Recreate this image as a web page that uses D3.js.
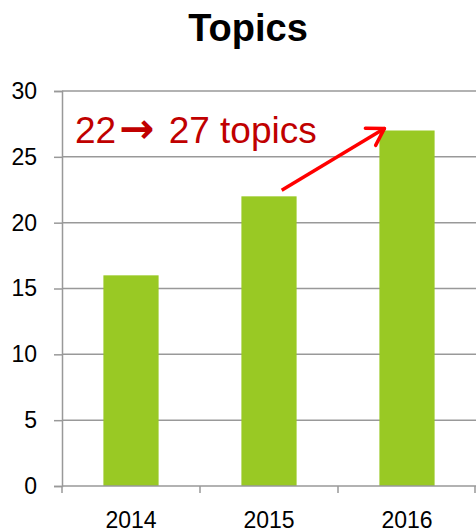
<!DOCTYPE html>
<html>
<head>
<meta charset="utf-8">
<script src="https://cdn.jsdelivr.net/npm/d3@7"></script>
<style>
  body { margin: 0; background: #fff; }
  text { font-family: "Liberation Sans", Arial, sans-serif; }
</style>
</head>
<body>
<div id="chart"></div>
<script>
// data
var years = ["2014", "2015", "2016"];
var topicCounts = [16, 22, 27];
var yTicks = [0, 5, 10, 15, 20, 25, 30];

// canvas size
var svgWidth = 476;
var svgHeight = 530;

// chart area
var margin = { top: 91, right: 0, bottom: 44, left: 62 };
var chartWidth = svgWidth - margin.left - margin.right;
var chartHeight = svgHeight - margin.top - margin.bottom;

var svg = d3.select("#chart")
            .append("svg")
            .attr("width", svgWidth)
            .attr("height", svgHeight);

var chartGroup = svg.append("g")
                    .attr("transform", `translate(${margin.left}, ${margin.top})`);

// scales
var yScale = d3.scaleLinear()
               .domain([0, 30])
               .range([chartHeight, 0]);

var xScale = d3.scaleBand()
               .domain(years)
               .range([0, chartWidth])
               .paddingInner(0.6)
               .paddingOuter(0.3);

// gridlines
chartGroup.selectAll(".grid")
          .data(yTicks.slice(1))
          .enter()
          .append("line")
          .attr("x1", 0)
          .attr("x2", chartWidth)
          .attr("y1", d => yScale(d))
          .attr("y2", d => yScale(d))
          .attr("stroke", "#999")
          .attr("stroke-width", 1.5);

// bars
chartGroup.selectAll(".bar")
          .data(topicCounts)
          .enter()
          .append("rect")
          .attr("x", (d, i) => xScale(years[i]))
          .attr("y", d => yScale(d))
          .attr("width", xScale.bandwidth())
          .attr("height", d => chartHeight - yScale(d))
          .attr("fill", "#99c924");

// y axis
var yAxis = chartGroup.append("g")
                      .call(d3.axisLeft(yScale).tickValues(yTicks).tickSize(8).tickPadding(17));
yAxis.select(".domain").attr("stroke", "#999").attr("stroke-width", 1.5);
yAxis.selectAll(".tick line").attr("stroke", "#999").attr("stroke-width", 1.5);
yAxis.selectAll("text").attr("font-size", 23).attr("fill", "#000")
     .attr("font-family", "Liberation Sans, sans-serif");

// x axis, ticks at band edges
var xAxisG = chartGroup.append("g")
                       .attr("transform", `translate(0, ${chartHeight})`);
xAxisG.append("line")
      .attr("x1", 0).attr("x2", chartWidth)
      .attr("stroke", "#999").attr("stroke-width", 1.5);
var step = xScale.step();
xAxisG.selectAll(".xtick")
      .data(d3.range(years.length + 1))
      .enter()
      .append("line")
      .attr("x1", i => Math.min(i * step, chartWidth - 1))
      .attr("x2", i => Math.min(i * step, chartWidth - 1))
      .attr("y1", 0)
      .attr("y2", 7)
      .attr("stroke", "#999")
      .attr("stroke-width", 1.5);
xAxisG.selectAll(".xlabel")
      .data(years)
      .enter()
      .append("text")
      .attr("x", d => xScale(d) + xScale.bandwidth() / 2)
      .attr("y", 42)
      .attr("text-anchor", "middle")
      .attr("font-size", 23)
      .attr("fill", "#000")
      .text(d => d);

// title
svg.append("text")
   .attr("x", 248)
   .attr("y", 41)
   .attr("text-anchor", "middle")
   .attr("font-size", 38)
   .attr("font-weight", "bold")
   .text("Topics");

// annotation
var note = svg.append("text")
   .attr("x", 75)
   .attr("y", 143)
   .attr("font-size", 37)
   .attr("fill", "#c00000");
note.append("tspan").text("22");
note.append("tspan")
    .attr("font-family", "DejaVu Sans, sans-serif")
    .attr("font-weight", "bold")
    .attr("font-size", 42)
    .attr("dx", 3)
    .text("\u2192");
note.append("tspan").attr("dx", 4).text(" 27 topics");

// arrow from 2015 bar to 2016 bar
var x1 = margin.left + xScale("2015") + xScale.bandwidth() * 0.73;
var y1 = margin.top + yScale(22) - 6;
var x2 = margin.left + xScale("2016") + 5;
var y2 = margin.top + yScale(27) - 2;
svg.append("line")
   .attr("x1", x1).attr("y1", y1)
   .attr("x2", x2).attr("y2", y2)
   .attr("stroke", "#ff0000")
   .attr("stroke-width", 3.5);
var ang = Math.atan2(y2 - y1, x2 - x1);
var headLen = 19;
[-0.55, 0.55].forEach(function(a) {
  svg.append("line")
     .attr("x1", x2).attr("y1", y2)
     .attr("x2", x2 - headLen * Math.cos(ang + a))
     .attr("y2", y2 - headLen * Math.sin(ang + a))
     .attr("stroke", "#ff0000")
     .attr("stroke-width", 3.5)
     .attr("stroke-linecap", "round");
});
</script>
</body>
</html>
